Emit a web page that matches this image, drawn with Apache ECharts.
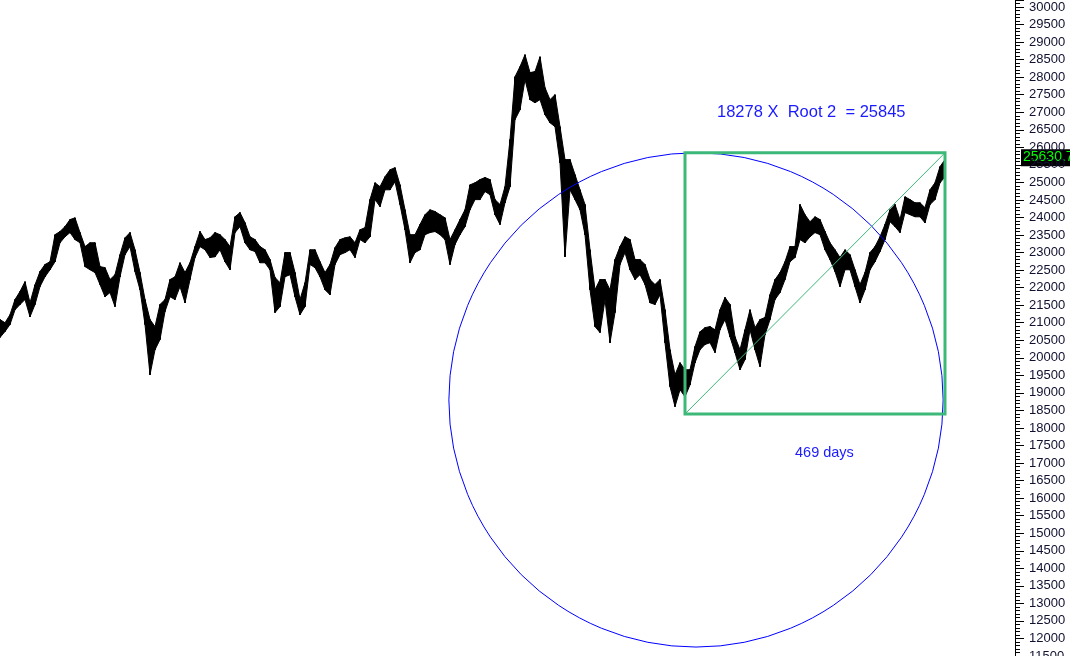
<!DOCTYPE html>
<html>
<head>
<meta charset="utf-8">
<script src="https://cdn.jsdelivr.net/npm/echarts@6/dist/echarts.min.js"></script>
<style>
  html, body { margin: 0; padding: 0; background: #fff; }
  #chart { width: 1070px; height: 656px; }
</style>
</head>
<body>
<div id="chart"></div>
<script>
// bar highs / lows, one entry per bar slot
var highs = [
  21090, 21000, 21230, 21660, 21890, 22170, 21570, 22080, 22460, 22660,
  22740, 23510, 23600, 23740, 23940, 23990, 23570, 23170, 23280, 23280,
  22600, 22570, 22230, 22370, 22940, 23420, 23570, 23080, 22430, 21660,
  21090, 20890, 21520, 21660, 22230, 22310, 22710, 22430, 22710, 23170,
  23600, 23370, 23420, 23570, 23510, 23370, 23170, 24020, 24140, 23850,
  23450, 23370, 23170, 23080, 22800, 22290, 22140, 23000, 23000, 22430,
  21660, 22140, 23080, 23080, 22740, 22430, 22660, 23140, 23370, 23420,
  23450, 23280, 23650, 23710, 24510, 24990, 24880, 25160, 25360, 25420,
  24930, 24220, 23510, 23510, 23800, 24080, 24220, 24170, 24080, 23990,
  23370, 23650, 23940, 24220, 24930, 24990, 25080, 25140, 25080, 24510,
  24370, 24880, 26220, 28010, 28300, 28640, 28130, 28160, 28580, 27700,
  27360, 27500, 26590, 25650, 25650, 25220, 24790, 24370, 23080, 21940,
  22230, 22230, 21940, 22800, 23170, 23450, 23370, 22800, 22800, 22660,
  22230, 22090, 22230, 21370, 20230, 19520, 19860, 19660, 19660, 20320,
  20740, 20860, 20890, 20800, 21370, 21720, 21520, 20600, 20230, 20800,
  21370, 20860, 21090, 21150, 21800, 22230, 22430, 22740, 23170, 23170,
  24370, 24080, 23880, 24020, 23940, 23600, 23280, 23080, 22860, 23080,
  22940, 22510, 22090, 22430, 23000, 23170, 23450, 23800, 24220, 24370,
  23940, 24590, 24510, 24420, 24420, 24280, 24790, 24990, 25450, 25650
];
var lows = [
  20580, 20750, 20950, 21370, 21520, 21660, 21170, 21520, 22030, 22310,
  22510, 22740, 23280, 23450, 23570, 23370, 23280, 22600, 22510, 22430,
  22090, 21740, 21860, 21460, 22310, 22940, 23170, 22460, 21940, 20950,
  19520, 20230, 20520, 21320, 21740, 21660, 22030, 21570, 22230, 22860,
  23170, 23080, 22860, 22880, 23080, 22740, 22510, 23570, 23740, 23280,
  23080, 23030, 22710, 22710, 22510, 21290, 21460, 22310, 22370, 21740,
  21230, 21460, 22660, 22570, 22310, 21940, 21800, 22660, 22940, 23000,
  23080, 22860, 23370, 23280, 23450, 24510, 24310, 24790, 24790, 25020,
  24370, 23650, 22710, 23000, 23080, 23510, 23570, 23600, 23510, 23370,
  22660, 23230, 23510, 23740, 24220, 24510, 24510, 24740, 24650, 24080,
  23800, 24420, 24880, 26790, 27070, 27930, 27360, 27270, 27360, 26930,
  26700, 26590, 25560, 22880, 24790, 24510, 24220, 23510, 21940, 20890,
  20720, 21660, 20430, 21290, 22660, 23000, 22510, 22230, 22370, 22090,
  21570, 21520, 21800, 20430, 19180, 18610, 19090, 18890, 19230, 19860,
  20230, 20380, 20430, 20150, 20800, 21090, 20600, 20150, 19660, 19950,
  20800, 20230, 19750, 20660, 21090, 21660, 21860, 22230, 22740, 22860,
  23370, 23280, 23450, 23570, 23510, 23080, 22800, 22460, 22030, 22510,
  22510, 22030, 21570, 21940, 22510, 22740, 23030, 23370, 23880, 23740,
  23570, 24140, 24080, 24020, 24020, 23850, 24370, 24510, 24990, 25160
];
var slots = 203;

// annotations
var boxStart = 137, boxEnd = 189;
var boxLow = 18400, boxHigh = 25845;
var circleCenter = [139.2, 18800];
var circleTop = 25845;
var lastPrice = 25630.7;

var bars = highs.map(function (h, i) { return [i, h, lows[i]]; });

var chart = echarts.init(document.getElementById('chart'));
chart.setOption({
  animation: false,
  backgroundColor: '#fff',
  grid: { left: 0, right: 55, top: 0, bottom: 0, outerBoundsMode: 'none' },
  xAxis: { type: 'value', min: 0, max: slots, show: false },
  yAxis: {
    type: 'value',
    position: 'right',
    min: 11500,
    max: 30200,
    interval: 500,
    minorTick: { show: true, splitNumber: 5, length: 5, lineStyle: { color: '#000' } },
    axisLine: { show: true, onZero: false, lineStyle: { color: '#000', width: 1 } },
    axisTick: { show: true, length: 9, lineStyle: { color: '#000' } },
    axisLabel: {
      color: '#101030', fontFamily: 'Arial, Liberation Sans', fontSize: 13, margin: 14,
      showMaxLabel: false, showMinLabel: true,
      formatter: function (v) { return v % 500 === 0 ? String(v) : ''; }
    },
    splitLine: { show: false }
  },
  series: [
    {
      // price trace: each slot joined to the next as a filled band
      type: 'custom',
      data: bars,
      encode: { x: 0, y: [1, 2] },
      renderItem: function (params, api) {
        var i = params.dataIndex;
        var top = api.coord([i, highs[i]]);
        var bot = api.coord([i, lows[i]]);
        var kids = [{
          type: 'rect',
          shape: { x: top[0] - 1, y: top[1], width: 2, height: Math.max(2, bot[1] - top[1]) },
          style: { fill: '#000' }
        }];
        if (i < highs.length - 1) {
          var top2 = api.coord([i + 1, highs[i + 1]]);
          var bot2 = api.coord([i + 1, lows[i + 1]]);
          kids.push({
            type: 'polygon',
            shape: { points: [top, top2, bot2, bot] },
            style: { fill: '#000', stroke: '#000', lineWidth: 1 }
          });
        }
        return { type: 'group', children: kids };
      }
    },
    {
      type: 'custom',
      data: [[circleCenter[0], circleCenter[1], circleTop]],
      encode: { x: 0, y: 1 },
      clip: false,
      renderItem: function (params, api) {
        var c = api.coord([api.value(0), api.value(1)]);
        var t = api.coord([api.value(0), api.value(2)]);
        return {
          type: 'circle',
          shape: { cx: c[0], cy: c[1], r: c[1] - t[1] },
          style: { fill: 'none', stroke: '#0000ff', lineWidth: 1 }
        };
      }
    },
    {
      type: 'custom',
      data: [[boxStart, boxLow, boxEnd, boxHigh]],
      encode: { x: [0, 2], y: [1, 3] },
      renderItem: function (params, api) {
        var a = api.coord([api.value(0), api.value(3)]);
        var b = api.coord([api.value(2), api.value(1)]);
        return {
          type: 'rect',
          shape: { x: a[0], y: a[1], width: b[0] - a[0], height: b[1] - a[1] },
          style: { fill: 'none', stroke: '#3cb878', lineWidth: 3 }
        };
      }
    },
    {
      type: 'line',
      data: [[boxStart, boxLow], [boxEnd, boxHigh]],
      symbol: 'none',
      lineStyle: { color: '#3cb878', width: 1 }
    }
  ]
});

var py = chart.convertToPixel({ yAxisIndex: 0 }, lastPrice);
chart.setOption({
  graphic: [
    {
      type: 'text', left: 717, top: 104,
      style: { text: '18278 X  Root 2  = 25845', fill: '#1a1aff', font: '16.5px Arial, Liberation Sans' }
    },
    {
      type: 'text', left: 795, top: 445,
      style: { text: '469 days', fill: '#1a1aff', font: '14.5px Arial, Liberation Sans' }
    },
    {
      type: 'group', left: 1021, top: py - 11, z: 100,
      children: [
        { type: 'rect', shape: { x: 0, y: 0, width: 49, height: 17 }, style: { fill: '#000' } },
        { type: 'text', x: 2, y: 1, style: { text: lastPrice.toFixed(1), fill: '#00ff00', font: '14px Arial, Liberation Sans' } }
      ]
    }
  ]
});
</script>
</body>
</html>
